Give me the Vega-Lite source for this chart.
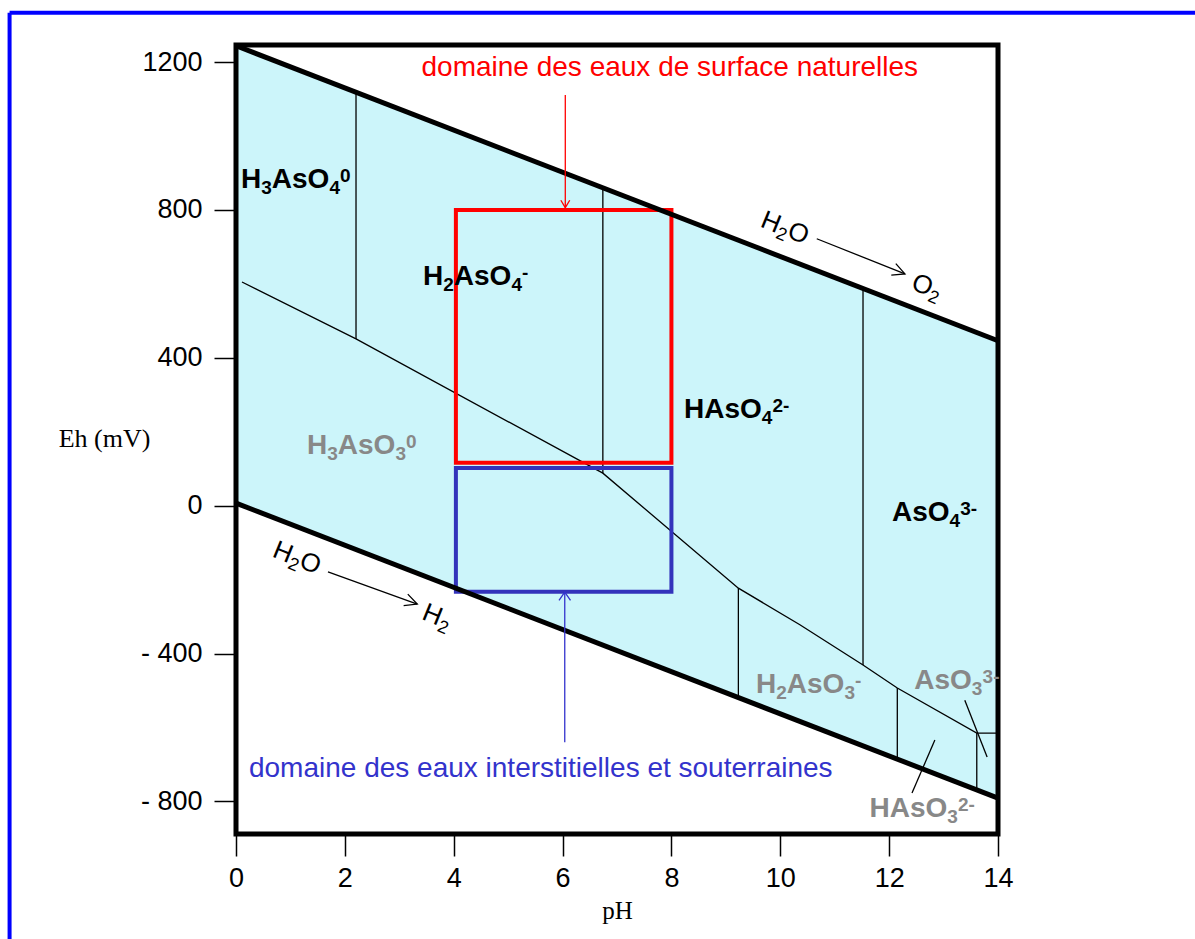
{
  "$schema": "https://vega.github.io/schema/vega-lite/v6.json",
  "width": 762,
  "height": 789,
  "autosize": {"type": "none"},
  "padding": {"left": 236, "top": 45, "right": 197, "bottom": 105},
  "background": "white",
  "config": {"view": {"stroke": null}},
  "datasets": {
    "outer": [
      {"pH": -4.16, "Eh": 1333, "pH2": 22, "Eh2": 1333},
      {"pH": -4.16, "Eh": 1333, "pH2": -4.16, "Eh2": -1600}
    ],
    "zone": [
      {"pH": 0, "Eh": 1244, "Eh2": 7},
      {"pH": 14, "Eh": 446, "Eh2": -791}
    ],
    "redox": [
      {"pH": 0.11, "Eh": 605},
      {"pH": 2.205, "Eh": 451},
      {"pH": 6.74, "Eh": 88},
      {"pH": 9.23, "Eh": -223},
      {"pH": 10.36, "Eh": -322},
      {"pH": 11.52, "Eh": -431},
      {"pH": 12.15, "Eh": -493},
      {"pH": 13.61, "Eh": -615},
      {"pH": 14, "Eh": -615}
    ],
    "segs": [
      {"pH": 2.205, "Eh": 1118, "pH2": 2.205, "Eh2": 451},
      {"pH": 6.74, "Eh": 860, "pH2": 6.74, "Eh2": 88},
      {"pH": 11.52, "Eh": 587, "pH2": 11.52, "Eh2": -431},
      {"pH": 9.23, "Eh": -223, "pH2": 9.23, "Eh2": -519},
      {"pH": 12.15, "Eh": -493, "pH2": 12.15, "Eh2": -686},
      {"pH": 13.61, "Eh": -615, "pH2": 13.61, "Eh2": -769},
      {"pH": 13.39, "Eh": -526, "pH2": 13.8, "Eh2": -680},
      {"pH": 12.84, "Eh": -634, "pH2": 12.42, "Eh2": -777}
    ],
    "water": [
      {"pH": 0, "Eh": 1244, "pH2": 14, "Eh2": 446},
      {"pH": 0, "Eh": 7, "pH2": 14, "Eh2": -791}
    ],
    "frame": [
      {"pH": 0, "Eh": -888, "pH2": 14, "Eh2": 1246}
    ],
    "boxes": [
      {"box": "surface", "pH": 4.04, "pH2": 8.0, "Eh": 800, "Eh2": 116},
      {"box": "souterraines", "pH": 4.04, "pH2": 8.0, "Eh": 102, "Eh2": -233}
    ],
    "shafts": [
      {"arrow": "O2", "pH": 10.67, "Eh": 722, "pH2": 12.29, "Eh2": 627},
      {"arrow": "H2", "pH": 1.69, "Eh": -179, "pH2": 3.33, "Eh2": -266},
      {"arrow": "surface", "pH": 6.05, "Eh": 1111, "pH2": 6.05, "Eh2": 806},
      {"arrow": "souterraines", "pH": 6.04, "Eh": -640, "pH2": 6.04, "Eh2": -234}
    ],
    "tips": [
      {"arrow": "O2", "pH": 12.29, "Eh": 627},
      {"arrow": "H2", "pH": 3.33, "Eh": -266},
      {"arrow": "surface", "pH": 6.05, "Eh": 806},
      {"arrow": "souterraines", "pH": 6.04, "Eh": -234}
    ],
    "species": [
      {"sp": "H3AsO4", "grp": "V", "part": "main", "t": "H", "pH": 0.092, "Eh": 860},
      {"sp": "H3AsO4", "grp": "V", "part": "sub", "t": "3", "pH": 0.463, "Eh": 860},
      {"sp": "H3AsO4", "grp": "V", "part": "main", "t": "AsO", "pH": 0.658, "Eh": 860},
      {"sp": "H3AsO4", "grp": "V", "part": "sub", "t": "4", "pH": 1.716, "Eh": 860},
      {"sp": "H3AsO4", "grp": "V", "part": "sup", "t": "0", "pH": 1.911, "Eh": 860},
      {"sp": "H2AsO4", "grp": "V", "part": "main", "t": "H", "pH": 3.436, "Eh": 597},
      {"sp": "H2AsO4", "grp": "V", "part": "sub", "t": "2", "pH": 3.807, "Eh": 597},
      {"sp": "H2AsO4", "grp": "V", "part": "main", "t": "AsO", "pH": 4.001, "Eh": 597},
      {"sp": "H2AsO4", "grp": "V", "part": "sub", "t": "4", "pH": 5.060, "Eh": 597},
      {"sp": "H2AsO4", "grp": "V", "part": "sup", "t": "-", "pH": 5.254, "Eh": 597},
      {"sp": "HAsO4", "grp": "V", "part": "main", "t": "HAsO", "pH": 8.231, "Eh": 237},
      {"sp": "HAsO4", "grp": "V", "part": "sub", "t": "4", "pH": 9.660, "Eh": 237},
      {"sp": "HAsO4", "grp": "V", "part": "sup", "t": "2-", "pH": 9.855, "Eh": 237},
      {"sp": "AsO4", "grp": "V", "part": "main", "t": "AsO", "pH": 12.052, "Eh": -41},
      {"sp": "AsO4", "grp": "V", "part": "sub", "t": "4", "pH": 13.110, "Eh": -41},
      {"sp": "AsO4", "grp": "V", "part": "sup", "t": "3-", "pH": 13.305, "Eh": -41},
      {"sp": "H3AsO3", "grp": "III", "part": "main", "t": "H", "pH": 1.304, "Eh": 140},
      {"sp": "H3AsO3", "grp": "III", "part": "sub", "t": "3", "pH": 1.676, "Eh": 140},
      {"sp": "H3AsO3", "grp": "III", "part": "main", "t": "AsO", "pH": 1.870, "Eh": 140},
      {"sp": "H3AsO3", "grp": "III", "part": "sub", "t": "3", "pH": 2.929, "Eh": 140},
      {"sp": "H3AsO3", "grp": "III", "part": "sup", "t": "0", "pH": 3.123, "Eh": 140},
      {"sp": "H2AsO3", "grp": "III", "part": "main", "t": "H", "pH": 9.553, "Eh": -507},
      {"sp": "H2AsO3", "grp": "III", "part": "sub", "t": "2", "pH": 9.925, "Eh": -507},
      {"sp": "H2AsO3", "grp": "III", "part": "main", "t": "AsO", "pH": 10.120, "Eh": -507},
      {"sp": "H2AsO3", "grp": "III", "part": "sub", "t": "3", "pH": 11.178, "Eh": -507},
      {"sp": "H2AsO3", "grp": "III", "part": "sup", "t": "-", "pH": 11.373, "Eh": -507},
      {"sp": "AsO3", "grp": "III", "part": "main", "t": "AsO", "pH": 12.461, "Eh": -496},
      {"sp": "AsO3", "grp": "III", "part": "sub", "t": "3", "pH": 13.519, "Eh": -496},
      {"sp": "AsO3", "grp": "III", "part": "sup", "t": "3-", "pH": 13.717, "Eh": -496},
      {"sp": "HAsO3", "grp": "III", "part": "main", "t": "HAsO", "pH": 11.640, "Eh": -842},
      {"sp": "HAsO3", "grp": "III", "part": "sub", "t": "3", "pH": 13.069, "Eh": -842},
      {"sp": "HAsO3", "grp": "III", "part": "sup", "t": "2-", "pH": 13.264, "Eh": -842}
    ],
    "waterlabels": [
      {"w": "H2O haut", "part": "main", "t": "H", "pH": 9.669, "Eh": 776},
      {"w": "H2O haut", "part": "sub", "t": "2", "pH": 9.989, "Eh": 757},
      {"w": "H2O haut", "part": "main", "t": "O", "pH": 10.160, "Eh": 747},
      {"w": "O2", "part": "main", "t": "O", "pH": 12.438, "Eh": 607},
      {"w": "O2", "part": "sub", "t": "2", "pH": 12.782, "Eh": 587},
      {"w": "H2O bas", "part": "main", "t": "H", "pH": 0.704, "Eh": -117},
      {"w": "H2O bas", "part": "sub", "t": "2", "pH": 1.023, "Eh": -136},
      {"w": "H2O bas", "part": "main", "t": "O", "pH": 1.194, "Eh": -146},
      {"w": "H2", "part": "main", "t": "H", "pH": 3.448, "Eh": -286},
      {"w": "H2", "part": "sub", "t": "2", "pH": 3.768, "Eh": -306}
    ],
    "domains": [
      {"domaine": "surface", "label": "domaine des eaux de surface naturelles", "pH": 7.97, "Eh": 1163},
      {"domaine": "souterraines", "label": "domaine des eaux interstitielles et souterraines", "pH": 5.60, "Eh": -733}
    ]
  },
  "encoding": {
    "x": {
      "field": "pH", "type": "quantitative",
      "scale": {"domain": [0, 14], "nice": false, "zero": false},
      "axis": {
        "values": [0, 2, 4, 6, 8, 10, 12, 14],
        "domain": false, "grid": false,
        "tickSize": 22, "tickWidth": 1.5, "tickColor": "black",
        "labelFont": "Liberation Sans", "labelFontSize": 27, "labelColor": "black",
        "labelPadding": 9, "labelFlush": false, "labelOverlap": false,
        "title": "pH", "titleFont": "Liberation Serif", "titleFontSize": 25,
        "titleFontWeight": "normal", "titleColor": "black", "titlePadding": 7
      }
    },
    "y": {
      "field": "Eh", "type": "quantitative",
      "scale": {"domain": [-888, 1246], "nice": false, "zero": false},
      "axis": {
        "values": [-800, -400, 0, 400, 800, 1200],
        "labelExpr": "datum.value < 0 ? '- ' + abs(datum.value) : '' + datum.value",
        "domain": false, "grid": false,
        "tickSize": 22, "tickWidth": 1.5, "tickColor": "black",
        "labelFont": "Liberation Sans", "labelFontSize": 27, "labelColor": "black",
        "labelPadding": 12, "labelFlush": false, "labelOverlap": false,
        "title": "Eh (mV)", "titleFont": "Liberation Serif", "titleFontSize": 26,
        "titleFontWeight": "normal", "titleColor": "black",
        "titleAngle": 0, "titleAlign": "center", "titleBaseline": "middle",
        "titleX": -132, "titleY": 393
      }
    }
  },
  "layer": [
    {
      "data": {"name": "outer"},
      "mark": {"type": "rule", "stroke": "#0000FF", "strokeWidth": 4, "clip": false},
      "encoding": {"x2": {"field": "pH2"}, "y2": {"field": "Eh2"}}
    },
    {
      "data": {"name": "zone"},
      "mark": {"type": "area", "fill": "#CCF5FA", "stroke": null},
      "encoding": {"y2": {"field": "Eh2"}}
    },
    {
      "data": {"name": "redox"},
      "mark": {"type": "line", "stroke": "black", "strokeWidth": 1.3},
      "encoding": {}
    },
    {
      "data": {"name": "segs"},
      "mark": {"type": "rule", "stroke": "black", "strokeWidth": 1.3},
      "encoding": {"x2": {"field": "pH2"}, "y2": {"field": "Eh2"}}
    },
    {
      "data": {"name": "boxes"},
      "transform": [{"filter": "datum.box == 'surface'"}],
      "mark": {"type": "rect", "fillOpacity": 0, "stroke": "#FF0000", "strokeWidth": 4},
      "encoding": {"x2": {"field": "pH2"}, "y2": {"field": "Eh2"}}
    },
    {
      "data": {"name": "boxes"},
      "transform": [{"filter": "datum.box == 'souterraines'"}],
      "mark": {"type": "rect", "fillOpacity": 0, "stroke": "#3333BB", "strokeWidth": 4},
      "encoding": {"x2": {"field": "pH2"}, "y2": {"field": "Eh2"}}
    },
    {
      "data": {"name": "water"},
      "mark": {"type": "rule", "stroke": "black", "strokeWidth": 5},
      "encoding": {"x2": {"field": "pH2"}, "y2": {"field": "Eh2"}}
    },
    {
      "data": {"name": "frame"},
      "mark": {"type": "rect", "fillOpacity": 0, "stroke": "black", "strokeWidth": 5},
      "encoding": {"x2": {"field": "pH2"}, "y2": {"field": "Eh2"}}
    },
    {
      "data": {"name": "shafts"},
      "transform": [{"filter": "datum.arrow == 'O2' || datum.arrow == 'H2'"}],
      "mark": {"type": "rule", "strokeWidth": 1.3, "stroke": "black"},
      "encoding": {"x2": {"field": "pH2"}, "y2": {"field": "Eh2"}}
    },
    {
      "data": {"name": "shafts"},
      "transform": [{"filter": "datum.arrow == 'surface'"}],
      "mark": {"type": "rule", "strokeWidth": 1.3, "stroke": "#FF0000"},
      "encoding": {"x2": {"field": "pH2"}, "y2": {"field": "Eh2"}}
    },
    {
      "data": {"name": "shafts"},
      "transform": [{"filter": "datum.arrow == 'souterraines'"}],
      "mark": {"type": "rule", "strokeWidth": 1.3, "stroke": "#3333CC"},
      "encoding": {"x2": {"field": "pH2"}, "y2": {"field": "Eh2"}}
    },
    {
      "data": {"name": "tips"},
      "transform": [{"filter": "datum.arrow == 'O2'"}],
      "mark": {"type": "point", "shape": "M -1 -0.5 L 0 0 L -1 0.5", "filled": false, "stroke": "black", "strokeWidth": 1.3, "size": 600, "angle": 21.7, "opacity": 1}
    },
    {
      "data": {"name": "tips"},
      "transform": [{"filter": "datum.arrow == 'H2'"}],
      "mark": {"type": "point", "shape": "M -1 -0.5 L 0 0 L -1 0.5", "filled": false, "stroke": "black", "strokeWidth": 1.3, "size": 600, "angle": 19.8, "opacity": 1}
    },
    {
      "data": {"name": "tips"},
      "transform": [{"filter": "datum.arrow == 'surface'"}],
      "mark": {"type": "point", "shape": "M -1 -0.6 L 0 0 L -1 0.6", "filled": false, "stroke": "#FF0000", "strokeWidth": 1.3, "size": 220, "angle": 90, "opacity": 1}
    },
    {
      "data": {"name": "tips"},
      "transform": [{"filter": "datum.arrow == 'souterraines'"}],
      "mark": {"type": "point", "shape": "M -1 -0.7 L 0 0 L -1 0.7", "filled": false, "stroke": "#3333CC", "strokeWidth": 1.3, "size": 270, "angle": -90, "opacity": 1}
    },
    {
      "data": {"name": "species"},
      "transform": [{"filter": "datum.grp == 'V' && datum.part == 'main'"}],
      "mark": {"type": "text", "font": "Liberation Sans", "fontSize": 28, "fontWeight": "bold", "fill": "black", "align": "left", "baseline": "alphabetic"},
      "encoding": {"text": {"field": "t"}}
    },
    {
      "data": {"name": "species"},
      "transform": [{"filter": "datum.grp == 'V' && datum.part == 'sub'"}],
      "mark": {"type": "text", "font": "Liberation Sans", "fontSize": 19, "fontWeight": "bold", "fill": "black", "align": "left", "baseline": "alphabetic", "dy": 6},
      "encoding": {"text": {"field": "t"}}
    },
    {
      "data": {"name": "species"},
      "transform": [{"filter": "datum.grp == 'V' && datum.part == 'sup'"}],
      "mark": {"type": "text", "font": "Liberation Sans", "fontSize": 19, "fontWeight": "bold", "fill": "black", "align": "left", "baseline": "alphabetic", "dy": -6},
      "encoding": {"text": {"field": "t"}}
    },
    {
      "data": {"name": "species"},
      "transform": [{"filter": "datum.grp == 'III' && datum.part == 'main'"}],
      "mark": {"type": "text", "font": "Liberation Sans", "fontSize": 28, "fontWeight": "bold", "fill": "#888888", "align": "left", "baseline": "alphabetic"},
      "encoding": {"text": {"field": "t"}}
    },
    {
      "data": {"name": "species"},
      "transform": [{"filter": "datum.grp == 'III' && datum.part == 'sub'"}],
      "mark": {"type": "text", "font": "Liberation Sans", "fontSize": 19, "fontWeight": "bold", "fill": "#888888", "align": "left", "baseline": "alphabetic", "dy": 6},
      "encoding": {"text": {"field": "t"}}
    },
    {
      "data": {"name": "species"},
      "transform": [{"filter": "datum.grp == 'III' && datum.part == 'sup'"}],
      "mark": {"type": "text", "font": "Liberation Sans", "fontSize": 19, "fontWeight": "bold", "fill": "#888888", "align": "left", "baseline": "alphabetic", "dy": -6},
      "encoding": {"text": {"field": "t"}}
    },
    {
      "data": {"name": "waterlabels"},
      "transform": [{"filter": "datum.part == 'main'"}],
      "mark": {"type": "text", "font": "Liberation Sans", "fontSize": 26, "fill": "black", "align": "left", "baseline": "middle", "angle": 22},
      "encoding": {"text": {"field": "t"}}
    },
    {
      "data": {"name": "waterlabels"},
      "transform": [{"filter": "datum.part == 'sub'"}],
      "mark": {"type": "text", "font": "Liberation Sans", "fontSize": 18, "fill": "black", "align": "left", "baseline": "middle", "angle": 22, "dy": 8},
      "encoding": {"text": {"field": "t"}}
    },
    {
      "data": {"name": "domains"},
      "transform": [{"filter": "datum.domaine == 'surface'"}],
      "mark": {"type": "text", "font": "Liberation Sans", "fontSize": 28, "fill": "#FF0000", "align": "center", "baseline": "alphabetic"},
      "encoding": {"text": {"field": "label"}}
    },
    {
      "data": {"name": "domains"},
      "transform": [{"filter": "datum.domaine == 'souterraines'"}],
      "mark": {"type": "text", "font": "Liberation Sans", "fontSize": 28, "fill": "#3333CC", "align": "center", "baseline": "alphabetic"},
      "encoding": {"text": {"field": "label"}}
    }
  ]
}
